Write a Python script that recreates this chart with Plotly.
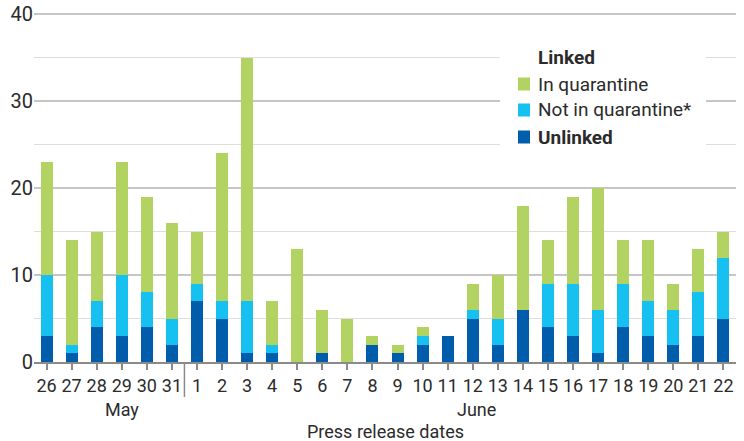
import plotly.graph_objects as go

dates = ["26", "27", "28", "29", "30", "31", "1", "2", "3", "4", "5", "6", "7", "8",
         "9", "10", "11", "12", "13", "14", "15", "16", "17", "18", "19", "20", "21", "22"]
unlinked = [3, 1, 4, 3, 4, 2, 7, 5, 1, 1, 0, 1, 0, 2, 1, 2, 3, 5, 2, 6, 4, 3, 1, 4, 3, 2, 3, 5]
not_in_quarantine = [7, 1, 3, 7, 4, 3, 2, 2, 6, 1, 0, 0, 0, 0, 0, 1, 0, 1, 3, 0, 5, 6, 5, 5, 4, 4, 5, 7]
in_quarantine = [13, 12, 8, 13, 11, 11, 6, 17, 28, 5, 13, 5, 5, 1, 1, 1, 0, 3, 5, 12, 5, 10, 14, 5, 7, 3, 5, 3]
y_ticks = [0, 10, 20, 30, 40]

C_GREEN = "#b2d362"
C_CYAN = "#16c1f1"
C_BLUE = "#005dab"
TXT = "#2b2b2b"
FONT = "Roboto, Liberation Sans, sans-serif"

x = list(range(len(dates)))
fig = go.Figure()
fig.add_trace(go.Bar(x=x, y=unlinked, marker_color=C_BLUE, name="Unlinked", marker_line_width=0))
fig.add_trace(go.Bar(x=x, y=not_in_quarantine, marker_color=C_CYAN, name="Not in quarantine*", marker_line_width=0))
fig.add_trace(go.Bar(x=x, y=in_quarantine, marker_color=C_GREEN, name="In quarantine", marker_line_width=0))

# plot area: x 34..736 px, y 10..362 px
T, B = 10, 79
PH = 441 - T - B
fig.update_layout(
    width=744, height=441,
    margin=dict(l=34, r=8, t=T, b=B),
    barmode="stack", bargap=0.52,
    plot_bgcolor="white", paper_bgcolor="white",
    showlegend=False,
    font=dict(family=FONT, color=TXT, size=18),
)
fig.update_xaxes(
    range=[-0.5, 27.5], tickmode="array", tickvals=x, ticktext=dates, tickangle=0,
    ticks="outside", tickson="boundaries", ticklen=6, tickwidth=1.5, tickcolor="#8a8a8a",
    showline=True, linecolor="#8a8a8a", linewidth=2, showgrid=False, automargin=False,
    tickfont=dict(size=18, color=TXT),
)
fig.update_yaxes(
    range=[0, 40.5], tickvals=y_ticks, showgrid=True, gridcolor="#c6c6c6", gridwidth=1.5,
    zeroline=False, ticks="", tickfont=dict(size=20, color=TXT), automargin=False,
    minor=dict(dtick=5, showgrid=True, gridcolor="#dedede", gridwidth=1),
)

def px_x(p):
    return (p - 34) / 702

def px_y(p):
    return (362 - p) / PH

# month separator
fig.add_shape(type="line", xref="x", yref="paper", x0=5.5, x1=5.5, y0=0, y1=px_y(397),
              line=dict(color="#8a8a8a", width=1.5))
fig.add_annotation(x=3.0, y=px_y(410), xref="x", yref="paper", text="May", showarrow=False,
                   font=dict(size=18, color=TXT), yanchor="middle")
fig.add_annotation(x=17.15, y=px_y(410), xref="x", yref="paper", text="June", showarrow=False,
                   font=dict(size=18, color=TXT), yanchor="middle")
fig.add_annotation(x=0.5, y=px_y(431), xref="paper", yref="paper", text="Press release dates",
                   showarrow=False, font=dict(size=18, color=TXT), yanchor="middle")

# custom legend
fig.add_shape(type="rect", xref="paper", yref="paper", x0=px_x(500), x1=px_x(706),
              y0=px_y(150), y1=px_y(45), fillcolor="white", line_width=0, layer="above")
fig.add_annotation(x=px_x(536), y=px_y(57), xref="paper", yref="paper", text="<b>Linked</b>",
                   showarrow=False, xanchor="left", yanchor="middle", font=dict(size=19, color=TXT))
legend_items = [("In quarantine", C_GREEN, 84), ("Not in quarantine*", C_CYAN, 110), ("<b>Unlinked</b>", C_BLUE, 137)]
for label, col, yc in legend_items:
    fig.add_shape(type="rect", xref="paper", yref="paper", x0=px_x(518), x1=px_x(530),
                  y0=px_y(yc + 6.5), y1=px_y(yc - 6.5), fillcolor=col, line_width=0, layer="above")
    fig.add_annotation(x=px_x(536), y=px_y(yc), xref="paper", yref="paper", text=label,
                       showarrow=False, xanchor="left", yanchor="middle", font=dict(size=19, color=TXT))

fig.write_html("out.html", config={"displayModeBar": False},
               post_script="document.body.style.margin='0';")
